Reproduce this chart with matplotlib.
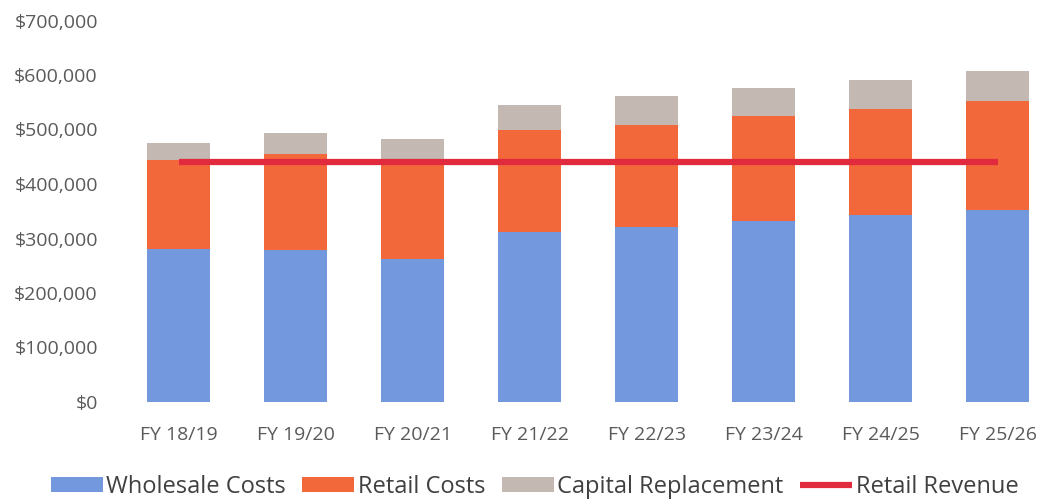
import matplotlib.pyplot as plt
import numpy as np
from matplotlib.ticker import FuncFormatter

plt.rcParams['font.family'] = ['Open Sans', 'DejaVu Sans']

years = ["FY 18/19", "FY 19/20", "FY 20/21", "FY 21/22", "FY 22/23", "FY 23/24", "FY 24/25", "FY 25/26"]
wholesale = [281000, 279000, 262000, 312000, 321000, 332000, 343000, 352000]
retail = [163000, 176000, 182000, 187000, 187000, 193000, 195000, 200000]
capital = [31000, 39000, 39000, 46000, 53000, 51000, 53000, 55000]
revenue = [440000] * 8

c_blue = "#7398de"
c_orange = "#f2683a"
c_grey = "#c4b8b3"
c_red = "#e12a3e"

fig = plt.figure(figsize=(10.48, 5.01), dpi=100)
ax = fig.add_axes([120 / 1048, 99 / 501, 936 / 1048, 381.5 / 501])

x = np.arange(len(years))
w = 0.53
b1 = ax.bar(x, wholesale, w, color=c_blue, label="Wholesale Costs")
b2 = ax.bar(x, retail, w, bottom=wholesale, color=c_orange, label="Retail Costs")
b3 = ax.bar(x, capital, w, bottom=np.array(wholesale) + np.array(retail), color=c_grey, label="Capital Replacement")
ln, = ax.plot(x, revenue, color=c_red, lw=4.5, solid_capstyle='butt', label="Retail Revenue")

ax.set_xlim(-0.5, 7.5)
ax.set_ylim(0, 700000)
ax.set_yticks(np.arange(0, 700001, 100000))
ax.yaxis.set_major_formatter(FuncFormatter(lambda v, p: "${:,.0f}".format(v)))
ax.set_xticks(x, years)
ax.tick_params(length=0, labelsize=14, colors="#5a5a5a")
ax.tick_params(axis='x', pad=17)
ax.tick_params(axis='y', pad=16)
for s in ax.spines.values():
    s.set_visible(False)

fig.legend([b1, b2, b3, ln], [b1.get_label(), b2.get_label(), b3.get_label(), ln.get_label()],
           loc='center', bbox_to_anchor=(0.51, 0.028), ncol=4, frameon=False,
           fontsize=17, handlelength=2.2, handleheight=0.6, handletextpad=0.15,
           columnspacing=0.7, labelcolor="#404040")

fig.savefig("out.png", dpi=100)
